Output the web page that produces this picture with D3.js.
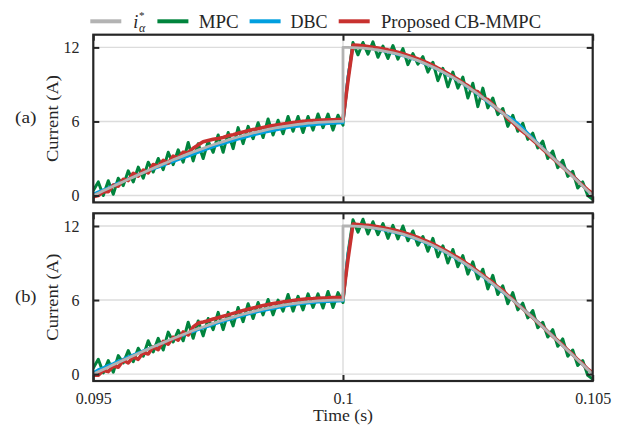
<!DOCTYPE html>
<html>
<head>
<meta charset="utf-8">
<script src="https://cdn.jsdelivr.net/npm/d3@7"></script>
<style>
  html, body { margin: 0; padding: 0; background: #fff; }
  svg { display: block; font-family: "Liberation Serif", "DejaVu Serif", serif; }
</style>
</head>
<body>
<svg id="chart" width="625" height="426"></svg>
<script>
// ---- data -----------------------------------------------------------
// Samples every 0.1 ms; "Pre" runs 0.095 s -> 0.1 s, "Post" runs 0.1 s -> 0.105 s.
const timeStart = 0.095, timeStep = 0.1, timeEnd = 0.105, sampleDt = 0.0001;

const xTicks = [0.095, 0.1, 0.105];
const xTickLabels = ["0.095", "0.1", "0.105"];
const yTicks = [0, 6, 12];
const panelTags = ["(a)", "(b)"];
const seriesLabels = ["MPC", "DBC", "Proposed CB-MMPC"];

// reference current i*_alpha (same in both cases)
const refPre = [0,0.19,0.38,0.56,0.75,0.94,1.12,1.31,1.49,1.67,1.85,2.03,2.21,2.38,2.55,2.72,2.89,3.05,3.21,3.37,3.53,3.68,3.82,3.97,4.11,4.24,4.37,4.50,4.62,4.74,4.85,4.96,5.07,5.16,5.26,5.35,5.43,5.51,5.58,5.65,5.71,5.76,5.81,5.86,5.89,5.93,5.95,5.97,5.99,6.00,6.00];
const refPost = [12.00,12.00,11.99,11.97,11.94,11.90,11.85,11.79,11.72,11.64,11.55,11.45,11.34,11.21,11.08,10.93,10.77,10.60,10.42,10.22,10.01,9.79,9.56,9.32,9.07,8.80,8.52,8.24,7.94,7.63,7.32,7.00,6.67,6.33,5.99,5.64,5.28,4.92,4.56,4.19,3.81,3.44,3.06,2.68,2.30,1.92,1.54,1.15,0.77,0.38,0.00];

// case (a)
const mpcPreA = [0.4,1.1,0.0,1.2,0.1,1.4,0.8,2.0,1.1,2.3,1.4,2.7,1.9,3.0,2.1,3.5,2.5,3.7,2.7,4.3,2.8,4.2,3.0,4.4,3.5,4.9,3.5,5.1,3.8,5.5,4.2,5.6,4.6,5.9,4.7,6.2,4.9,6.1,5.0,6.4,5.2,6.4,5.1,6.4,5.3,6.6,5.5,6.6,5.3,6.5,5.7];
const mpcPostA = [5.9,9.5,12.4,11.4,12.4,11.45,12.45,11.2,12.1,11.1,12.15,11.05,11.9,10.6,11.5,10.65,11.25,10.0,10.8,9.3,10.3,8.8,10.0,8.7,9.6,7.9,9.1,7.2,8.7,7.1,7.9,6.55,7.05,5.6,6.5,5.2,5.85,4.55,5.05,3.85,4.4,3.0,3.6,2.25,2.85,1.55,1.95,0.6,1.1,0.0,-0.3];
const dbcPreA = [0.1,0.3,0.45,0.6,0.85,1.0,1.2,1.35,1.55,1.7,1.85,2.0,2.15,2.3,2.45,2.6,2.75,2.9,3.05,3.2,3.35,3.5,3.65,3.8,3.95,4.08,4.2,4.32,4.45,4.57,4.68,4.8,4.9,5.0,5.1,5.18,5.27,5.35,5.42,5.5,5.56,5.61,5.66,5.7,5.74,5.78,5.8,5.83,5.85,5.87,5.9];
const dbcPostA = [5.9,9.6,12.1,12.07,12.01,11.95,11.88,11.8,11.72,11.62,11.54,11.43,11.33,11.2,11.07,10.94,10.75,10.59,10.41,10.19,10.0,9.76,9.56,9.32,9.07,8.76,8.51,8.2,7.89,7.58,7.27,6.95,6.64,6.42,6.16,5.84,5.47,5.05,4.64,4.23,3.85,3.44,3.08,2.71,2.35,1.99,1.59,1.22,0.82,0.4,0.05];
const cbPreA = [-0.1,0.0,0.3,0.3,0.85,0.75,1.32,1.21,1.79,1.57,2.05,1.83,2.51,2.38,2.85,2.62,3.19,3.05,3.51,3.47,3.83,4.1,4.35,4.45,4.55,4.62,4.7,4.85,4.92,5.04,5.15,5.24,5.34,5.41,5.51,5.6,5.67,5.73,5.8,5.85,5.91,5.96,6.01,6.04,6.07,6.1,6.12,6.13,6.14,6.15,6.15];
const cbPostA = [6.15,9.3,12.2,12.17,12.13,12.08,12.02,11.95,11.88,11.8,11.7,11.6,11.48,11.35,11.22,11.06,10.9,10.72,10.54,10.32,10.12,9.89,9.66,9.42,9.12,8.91,8.51,8.4,7.89,7.78,7.37,6.95,6.74,6.22,5.91,5.49,5.17,4.85,4.49,4.13,3.75,3.39,3.03,2.66,2.3,1.94,1.59,1.17,0.82,0.45,0.15];

// case (b)
const mpcPreB = [0.5,1.2,0.1,1.1,0.15,1.5,0.9,1.9,1.0,2.1,1.45,2.7,1.8,2.9,1.95,3.4,2.6,3.55,2.7,4.2,2.9,4.3,3.1,4.5,3.6,5.0,3.6,5.0,3.9,5.4,4.25,5.7,4.5,5.8,4.8,6.05,4.8,6.0,5.1,6.45,5.1,6.3,5.2,6.5,5.4,6.5,5.35,6.7,5.4,6.6,5.8];
const mpcPostB = [5.8,9.8,12.5,11.5,12.55,11.35,12.35,11.3,12.2,11.0,12.05,10.95,12.0,10.8,11.6,10.45,11.15,9.95,11.0,9.5,10.4,9.0,10.1,8.7,9.6,8.1,9.1,7.7,8.5,6.9,8.0,6.45,7.15,5.7,6.6,5.2,5.75,4.55,5.15,3.75,4.2,3.0,3.6,2.25,2.85,1.45,1.95,0.7,1.1,-0.1,-0.4];
const dbcPreB = [0.1,0.35,0.5,0.7,0.85,1.05,1.2,1.4,1.55,1.72,1.88,2.05,2.2,2.37,2.52,2.68,2.84,3.0,3.15,3.3,3.45,3.6,3.74,3.88,4.02,4.15,4.28,4.4,4.52,4.64,4.75,4.86,4.96,5.06,5.15,5.24,5.32,5.4,5.48,5.55,5.61,5.67,5.72,5.76,5.8,5.84,5.87,5.89,5.91,5.93,5.95];
const dbcPostB = [5.95,9.7,12.1,12.02,11.98,11.93,11.86,11.78,11.7,11.62,11.52,11.42,11.31,11.18,11.05,10.9,10.73,10.57,10.39,10.19,9.98,9.77,9.53,9.3,9.04,8.77,8.49,8.2,7.91,7.6,7.29,6.97,6.64,6.32,6.01,5.67,5.32,4.95,4.59,4.23,3.84,3.47,3.1,2.71,2.33,1.94,1.56,1.17,0.79,0.4,0.02];
const cbPreB = [-0.1,-0.1,0.3,0.2,0.65,0.55,1.12,0.9,1.4,1.2,1.75,1.63,2.21,1.98,2.65,2.42,2.99,2.75,3.41,3.17,3.83,4.13,4.22,4.32,4.46,4.56,4.68,4.8,4.92,5.04,5.15,5.26,5.36,5.45,5.55,5.63,5.71,5.78,5.85,5.91,5.97,6.02,6.06,6.1,6.12,6.15,6.17,6.18,6.2,6.2,6.2];
const cbPostB = [6.2,9.3,12.15,12.12,12.08,12.05,11.99,11.93,11.86,11.78,11.69,11.59,11.48,11.35,11.22,11.07,10.9,10.73,10.55,10.34,10.13,9.91,9.67,9.44,9.18,8.89,8.63,8.32,8.04,7.7,7.42,7.05,6.79,6.37,6.06,5.59,5.32,4.9,4.59,4.18,3.85,3.44,3.08,2.71,2.35,1.94,1.59,1.17,0.82,0.4,0.1];

// ---- styling --------------------------------------------------------
const colors = { ref: "#b3b3b3", mpc: "#00843d", dbc: "#009fdf", cb: "#c8312f" };
const ink = "#262626";
const gridColor = "#dcdcdc";

// ---- layout ---------------------------------------------------------
const plotLeft = 93.3, plotRight = 592.7;
const panelHeight = 167.7;
const panelTops = [34.7, 213.3];

const svg = d3.select("#chart");
svg.append("rect").attr("width", 625).attr("height", 426).attr("fill", "#fff");

const x = d3.scaleLinear().domain([timeStart, timeEnd]).range([plotLeft, plotRight]);

// join a pre-step and a post-step sample array into [time, value] pairs
function toSeries(pre, post) {
  const a = pre.map((v, k) => [timeStart + k * sampleDt, v]);
  const b = post.map((v, k) => [timeStep + k * sampleDt, v]);
  return a.concat(b);
}

const panels = [
  { tag: panelTags[0], mpc: toSeries(mpcPreA, mpcPostA), dbc: toSeries(dbcPreA, dbcPostA), cb: toSeries(cbPreA, cbPostA) },
  { tag: panelTags[1], mpc: toSeries(mpcPreB, mpcPostB), dbc: toSeries(dbcPreB, dbcPostB), cb: toSeries(cbPreB, cbPostB) }
];
const refSeries = toSeries(refPre, refPost);

panels.forEach((p, i) => {
  const top = panelTops[i];
  const bottom = top + panelHeight;
  const y = d3.scaleLinear().domain([-0.56, 13.03]).range([bottom, top]);
  const g = svg.append("g");

  const clipId = "clip" + i;
  svg.append("clipPath").attr("id", clipId)
    .append("rect").attr("x", plotLeft).attr("y", top)
    .attr("width", plotRight - plotLeft).attr("height", panelHeight);

  // grid
  g.append("g").selectAll("line").data(yTicks).join("line")
    .attr("x1", plotLeft).attr("x2", plotRight)
    .attr("y1", d => y(d)).attr("y2", d => y(d))
    .attr("stroke", gridColor).attr("stroke-width", 1.4);
  g.append("g").selectAll("line").data(xTicks).join("line")
    .attr("x1", d => x(d)).attr("x2", d => x(d))
    .attr("y1", top).attr("y2", bottom)
    .attr("stroke", gridColor).attr("stroke-width", 1.4);

  // traces
  const line = d3.line().x(d => x(d[0])).y(d => y(d[1]));
  const traces = g.append("g").attr("clip-path", `url(#${clipId})`)
    .attr("fill", "none").attr("stroke-linejoin", "round").attr("stroke-linecap", "round");
  traces.append("path").datum(p.mpc).attr("d", line).attr("stroke", colors.mpc).attr("stroke-width", 3);
  traces.append("path").datum(p.dbc).attr("d", line).attr("stroke", colors.dbc).attr("stroke-width", 3);
  traces.append("path").datum(p.cb).attr("d", line).attr("stroke", colors.cb).attr("stroke-width", 3.6);
  traces.append("path").datum(refSeries).attr("d", line).attr("stroke", colors.ref).attr("stroke-width", 2.8);

  // axes with inward ticks on all four sides
  const styleAxis = sel => {
    sel.select(".domain").remove();
    sel.selectAll(".tick line").attr("stroke", ink).attr("stroke-width", 2);
    sel.selectAll(".tick text").attr("fill", ink).attr("font-size", 16)
      .attr("font-family", "Liberation Serif, serif");
  };
  g.append("g").attr("transform", `translate(${plotLeft},0)`)
    .call(d3.axisLeft(y).tickValues(yTicks).tickSize(-6).tickPadding(13.8).tickFormat(d3.format("d")))
    .call(styleAxis);
  g.append("g").attr("transform", `translate(${plotRight},0)`)
    .call(d3.axisRight(y).tickValues(yTicks).tickSize(-6).tickFormat(""))
    .call(styleAxis);
  g.append("g").attr("transform", `translate(0,${top})`)
    .call(d3.axisTop(x).tickValues(xTicks).tickSize(-6).tickFormat(""))
    .call(styleAxis);
  g.append("g").attr("transform", `translate(0,${bottom})`)
    .call(d3.axisBottom(x).tickValues(xTicks).tickSize(-6).tickPadding(11.6)
      .tickFormat((d, k) => i === 1 ? xTickLabels[k] : ""))
    .call(styleAxis);

  // frame
  g.append("rect").attr("x", plotLeft).attr("y", top)
    .attr("width", plotRight - plotLeft).attr("height", panelHeight)
    .attr("fill", "none").attr("stroke", ink).attr("stroke-width", 2.2);

  // y label and case tag
  const mid = (top + bottom) / 2;
  g.append("text").attr("transform", `translate(57.5,${mid}) rotate(-90)`)
    .attr("text-anchor", "middle").attr("font-size", 17).attr("fill", ink)
    .attr("textLength", 87).attr("lengthAdjust", "spacingAndGlyphs")
    .text("Current (A)");
  g.append("text").attr("x", 15).attr("y", mid + 4.6)
    .attr("font-size", 17).attr("fill", ink)
    .attr("textLength", 21.5).attr("lengthAdjust", "spacingAndGlyphs")
    .text(p.tag);
});

// x axis title
svg.append("text").attr("x", x(timeStep)).attr("y", 420.5)
  .attr("text-anchor", "middle").attr("font-size", 17).attr("fill", ink)
  .attr("textLength", 60).attr("lengthAdjust", "spacingAndGlyphs")
  .text("Time (s)");

// ---- legend ---------------------------------------------------------
const legend = svg.append("g");
const legendItems = [
  { color: colors.ref, x0: 90.3 },
  { color: colors.mpc, x0: 157.4, label: seriesLabels[0], tx: 198.7, tw: 40 },
  { color: colors.dbc, x0: 249.6, label: seriesLabels[1], tx: 290.5, tw: 37 },
  { color: colors.cb, x0: 338.7, label: seriesLabels[2], tx: 381, tw: 160 }
];
legend.selectAll("line").data(legendItems).join("line")
  .attr("x1", d => d.x0).attr("x2", d => d.x0 + 31)
  .attr("y1", 21.3).attr("y2", 21.3)
  .attr("stroke", d => d.color).attr("stroke-width", 4);
legend.selectAll("text.lbl").data(legendItems.filter(d => d.label)).join("text")
  .attr("class", "lbl")
  .attr("x", d => d.tx).attr("y", 27.5)
  .attr("font-size", 18).attr("fill", ink)
  .attr("textLength", d => d.tw).attr("lengthAdjust", "spacingAndGlyphs")
  .text(d => d.label);
// i*_alpha with stacked super/subscript
const refLabel = legend.append("text").attr("x", 133.3).attr("y", 27.5).attr("fill", ink).attr("font-size", 18);
refLabel.append("tspan").attr("font-style", "italic").text("i");
refLabel.append("tspan").attr("font-size", 11).attr("dy", -8.5).attr("dx", 0.8).text("*");
refLabel.append("tspan").attr("font-size", 12).attr("font-style", "italic")
  .attr("x", 139).attr("dy", 12.5).text("α");
</script>
</body>
</html>
